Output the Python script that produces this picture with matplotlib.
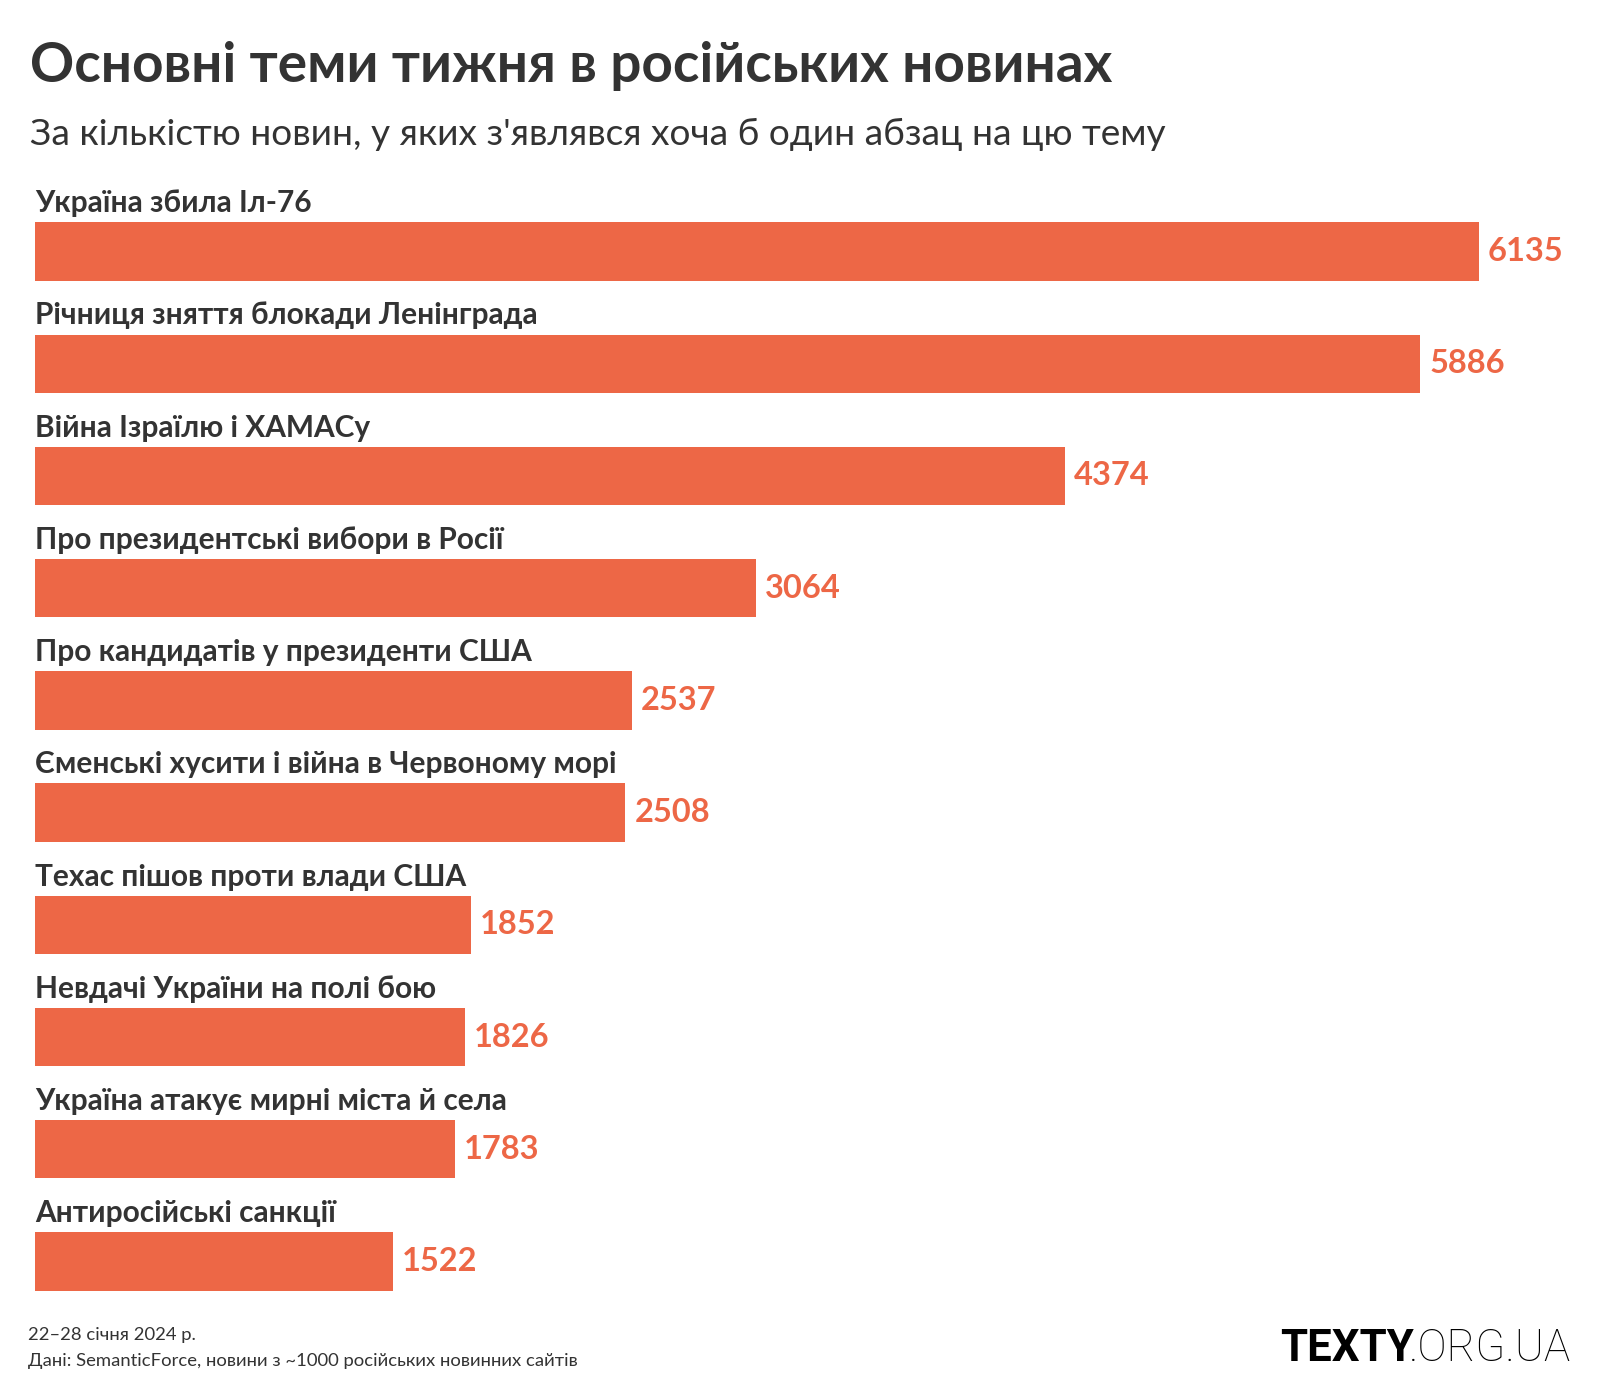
import matplotlib.pyplot as plt

plt.rcParams['font.family'] = ['Lato', 'DejaVu Sans']

topics = [
    "Україна збила Іл-76",
    "Річниця зняття блокади Ленінграда",
    "Війна Ізраїлю і ХАМАСу",
    "Про президентські вибори в Росії",
    "Про кандидатів у президенти США",
    "Єменські хусити і війна в Червоному морі",
    "Техас пішов проти влади США",
    "Невдачі України на полі бою",
    "Україна атакує мирні міста й села",
    "Антиросійські санкції",
]
counts = [6135, 5886, 4374, 3064, 2537, 2508, 1852, 1826, 1783, 1522]

bar_color = '#ED6746'
text_color = '#333333'

fig = plt.figure(figsize=(16, 14), dpi=100)
ax = fig.add_axes([35 / 1600, 1 - 1317.6 / 1400, 1444 / 1600, 1122.2 / 1400])

pos = list(range(len(topics)))
ax.barh(pos, counts, height=0.52, color=bar_color)
ax.set_xlim(0, max(counts))
ax.set_ylim(len(topics) - 0.5, -0.5)
ax.axis('off')

for i, (t, v) in enumerate(zip(topics, counts)):
    ax.text(0, i - 0.35, t, ha='left', va='baseline', fontsize=21.5,
            fontweight='bold', color=text_color, clip_on=False)
    ax.text(v + 38, i, str(v), ha='left', va='center', fontsize=23.5,
            fontweight='bold', color=bar_color, clip_on=False)

fig.text(30 / 1600, 1 - 82 / 1400, "Основні теми тижня в російських новинах",
         fontsize=39.5, fontweight='bold', color=text_color, va='baseline')
fig.text(30 / 1600, 1 - 145 / 1400,
         "За кількістю новин, у яких з'являвся хоча б один абзац на цю тему",
         fontsize=26.7, color=text_color, va='baseline')

fig.text(28 / 1600, 1 - 1340 / 1400, "22–28 січня 2024 р.",
         fontsize=13.3, color=text_color, va='baseline')
fig.text(28 / 1600, 1 - 1366 / 1400,
         "Дані: SemanticForce, новини з ~1000 російських новинних сайтів",
         fontsize=13.3, color=text_color, va='baseline')

# logo: bold part + light part, placed side by side
org = fig.text(1571 / 1600, 1 - 1361 / 1400, ".ORG.UA", fontsize=31.5,
               color='black', ha='right', va='baseline', fontweight='light',
               family=['Roboto', 'DejaVu Sans'])
fig.canvas.draw()
bb = org.get_window_extent()
fig.text((bb.x0 + 5) / 1600, 1 - 1361 / 1400, "TEXTY", fontsize=31.5,
         fontweight='bold', color='black', ha='right', va='baseline',
         family=['Roboto', 'DejaVu Sans'])

fig.savefig('out.png', dpi=100, facecolor='white')
